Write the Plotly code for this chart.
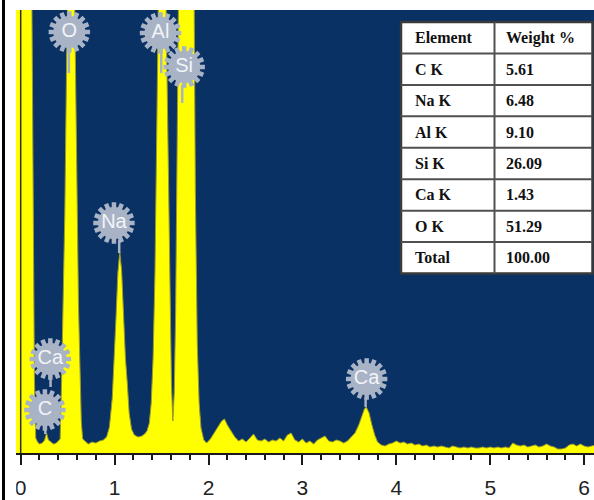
import plotly.graph_objects as go

# ---------------- data ----------------
energy_keV = [
    -0.07, 0.10, 0.118, 0.13, 0.146, 0.16, 0.18, 0.20, 0.23, 0.255, 0.275, 0.295, 0.32, 0.35, 0.38, 0.405, 0.42,
    0.435, 0.45, 0.47, 0.49, 0.51, 0.535, 0.56, 0.58, 0.60, 0.615, 0.63, 0.645, 0.66,
    0.68, 0.72, 0.76, 0.80, 0.84, 0.88,
    0.915, 0.945, 0.975, 0.995, 1.015, 1.035, 1.055, 1.075, 1.095, 1.115, 1.135, 1.155, 1.18, 1.21,
    1.25, 1.29, 1.32, 1.345, 1.37, 1.39, 1.41, 1.43, 1.45, 1.47, 1.49, 1.51, 1.53, 1.55, 1.57, 1.59, 1.605,
    1.62, 1.635, 1.65, 1.67, 1.69, 1.71, 1.74, 1.77, 1.80, 1.82, 1.84, 1.86, 1.88, 1.90, 1.92, 1.95,
    1.98, 2.02, 2.06, 2.10, 2.14, 2.17, 2.20, 2.24, 2.28, 2.32, 2.36, 2.40, 2.44, 2.48, 2.52, 2.56, 2.60,
    2.64, 2.68, 2.72, 2.76, 2.80, 2.84, 2.88, 2.92, 2.96, 3.00, 3.04, 3.08, 3.12, 3.16, 3.20, 3.24, 3.28,
    3.32, 3.36, 3.40, 3.44, 3.48, 3.52, 3.56, 3.60, 3.63, 3.66, 3.68, 3.71, 3.74, 3.77, 3.80, 3.84, 3.88,
    3.92, 3.96, 4.00, 4.04, 4.08, 4.12, 4.16, 4.20, 4.24, 4.28, 4.32, 4.36, 4.40, 4.44, 4.48, 4.52, 4.56,
    4.60, 4.64, 4.68, 4.72, 4.76, 4.80, 4.84, 4.88, 4.92, 4.96, 5.00, 5.04, 5.08, 5.12, 5.16, 5.20, 5.24,
    5.28, 5.32, 5.36, 5.40, 5.44, 5.48, 5.52, 5.56, 5.60, 5.64, 5.68, 5.72, 5.76, 5.80, 5.84, 5.88, 5.92,
    5.96, 6.00, 6.04, 6.12,
]
counts = [
    1500, 1200, 470, 260, 75, 15, 11, 9, 10, 13, 20, 13, 11, 9, 10, 12, 14,
    70, 130, 240, 400, 560, 650, 560, 400, 250, 150, 90, 32, 14,
    12, 9, 11, 10, 12, 13,
    16, 26, 55, 90, 135, 180, 201, 182, 140, 95, 70, 40, 24, 18,
    16, 17, 19, 22, 30, 50, 95, 180, 330, 420, 700, 800, 700, 430, 300, 140, 70,
    32, 60, 140, 320, 560, 850, 1200, 1300, 1150, 850, 520, 260, 110, 50, 25, 13,
    10, 14, 20, 26, 32, 34, 28, 22, 16, 12, 14, 11, 15, 19, 13, 12, 14,
    11, 13, 12, 15, 12, 18, 20, 13, 11, 14, 10, 12, 9, 13, 15, 17, 12,
    11, 13, 12, 10, 12, 16, 20, 28, 36, 44, 46, 40, 28, 18, 11, 8, 7,
    9, 10, 12, 10, 11, 9, 10, 8, 9, 7, 8, 6, 7, 6, 7, 6, 5,
    7, 6, 5, 6, 5, 6, 5, 5, 6, 5, 6, 5, 6, 5, 6, 5, 10,
    8, 7, 8, 6, 7, 8, 6, 7, 9, 7, 6, 4, 4, 5, 8, 9, 7,
    9, 7, 6, 8,
]

tick_values = [0, 1, 2, 3, 4, 5, 6]
tick_labels = ["0", "1", "2", "3", "4", "5", "6"]

# peak labels: text, badge centre (energy, counts), stem (energy, top, bottom)
peak_labels = ["O", "Al", "Si", "Na", "Ca", "C", "Ca"]
label_energy = [0.518, 1.489, 1.741, 0.993, 0.316, 0.258, 3.684]
label_counts = [421, 420, 386, 230, 94, 43, 74]
stem_energy = [0.513, 1.497, 1.720, 1.049, 0.318, 0.262, 3.673]
stem_top = [403, 403, 368, 213, 76, 26, 55]
stem_bottom = [380, 380, 350, 200, 66, 19, 46]

table_header = ["Element", "Weight %"]
table_elements = ["C K", "Na K", "Al K", "Si K", "Ca K", "O K", "Total"]
table_weights = ["5.61", "6.48", "9.10", "26.09", "1.43", "51.29", "100.00"]

# ---------------- layout geometry ----------------
W, H = 594, 500
ML, MR, MT, MB = 16, 0, 10, 47
PW, PH = W - ML - MR, H - MT - MB


def px(xpix):
    return (xpix - ML) / PW


def py(ypix):
    return (H - MB - ypix) / PH


NAVY = "#0A3164"
YELLOW = "#FFFF00"
BADGE = "#A9B3C6"

fig = go.Figure()

fig.add_trace(go.Scatter(
    x=energy_keV, y=counts, mode="lines", fill="tozeroy",
    fillcolor=YELLOW, line=dict(color="#9A9A2A", width=1),
    hoverinfo="skip", showlegend=False,
))

# stems
sx, sy = [], []
for e, t, b in zip(stem_energy, stem_top, stem_bottom):
    sx += [e, e, None]
    sy += [t, b, None]
fig.add_trace(go.Scatter(x=sx, y=sy, mode="lines", line=dict(color=BADGE, width=2.5),
                         hoverinfo="skip", showlegend=False))

# scalloped rim of the badges
for ang in (0, 22.5):
    fig.add_trace(go.Scatter(
        x=label_energy, y=label_counts, mode="markers",
        marker=dict(size=34.5, symbol="asterisk-open", angle=ang, color=BADGE,
                    line=dict(color=BADGE, width=4.5)),
        hoverinfo="skip", showlegend=False,
    ))

# badges
fig.add_trace(go.Scatter(
    x=label_energy, y=label_counts, mode="markers+text", text=peak_labels,
    textposition="middle center",
    textfont=dict(family="Arial, Liberation Sans", size=20, color="#F2F4F8"),
    marker=dict(size=32, color=BADGE, line=dict(width=0)),
    hoverinfo="skip", showlegend=False,
))

shapes = []
# y-axis line at 0 keV
shapes.append(dict(type="line", xref="x", yref="paper", x0=0, x1=0, y0=0, y1=1,
                   line=dict(color="#2E2E1E", width=1.5), layer="above"))

# table
tl, tr, tt, tb, tc = 401, 592.5, 22, 273.5, 494.5
nrows = len(table_elements) + 1
rh = (tb - tt) / nrows
shapes.append(dict(type="rect", xref="paper", yref="paper", x0=px(tl), x1=px(tr), y0=py(tb), y1=py(tt),
                   fillcolor="white", line=dict(color="#3A3A3A", width=2.5), layer="above"))
for i in range(1, nrows):
    yy = py(tt + i * rh)
    shapes.append(dict(type="line", xref="paper", yref="paper", x0=px(tl), x1=px(tr), y0=yy, y1=yy,
                       line=dict(color="#505050", width=2), layer="above"))
shapes.append(dict(type="line", xref="paper", yref="paper", x0=px(tc), x1=px(tc), y0=py(tb), y1=py(tt),
                   line=dict(color="#505050", width=2), layer="above"))

# image crop edge on the left
shapes.append(dict(type="rect", xref="paper", yref="paper", x0=px(0), x1=px(16.2), y0=py(H), y1=py(H - MB + 3),
                   fillcolor="white", line=dict(width=0), layer="above"))
shapes.append(dict(type="line", xref="paper", yref="paper", x0=px(3.5), x1=px(3.5), y0=py(H), y1=py(0),
                   line=dict(color="black", width=3), layer="above"))

annotations = []
tfont = dict(family="Liberation Serif, Times New Roman", size=16, color="#111111")
rows = [table_header] + [[a, b] for a, b in zip(table_elements, table_weights)]
for i, (a, b) in enumerate(rows):
    yc = py(tt + (i + 0.5) * rh)
    annotations.append(dict(xref="paper", yref="paper", x=px(tl + 12), y=yc, text="<b>%s</b>" % a,
                            showarrow=False, xanchor="left", yanchor="middle", font=tfont))
    annotations.append(dict(xref="paper", yref="paper", x=px(tc + 9), y=yc, text="<b>%s</b>" % b,
                            showarrow=False, xanchor="left", yanchor="middle", font=tfont))

fig.update_layout(
    width=W, height=H,
    margin=dict(l=ML, r=MR, t=MT, b=MB, pad=0),
    paper_bgcolor="white", plot_bgcolor=NAVY,
    shapes=shapes, annotations=annotations,
    xaxis=dict(range=[-0.05, 6.105], tickvals=tick_values, ticktext=tick_labels,
               showgrid=False, zeroline=False, showline=True, linecolor="#1A1A1A", linewidth=2,
               ticks="outside", ticklen=10, tickwidth=1.5, tickcolor="#1A1A1A",
               ticklabelstandoff=5,
               tickfont=dict(family="Arial, Liberation Sans", size=21, color="#222222"),
               minor=dict(dtick=0.2, ticks="outside", ticklen=5, tickwidth=1.5, tickcolor="#1A1A1A"),
               fixedrange=True),
    yaxis=dict(range=[0, PH], visible=False, showgrid=False, zeroline=False, fixedrange=True),
)

fig.write_html("out.html")
